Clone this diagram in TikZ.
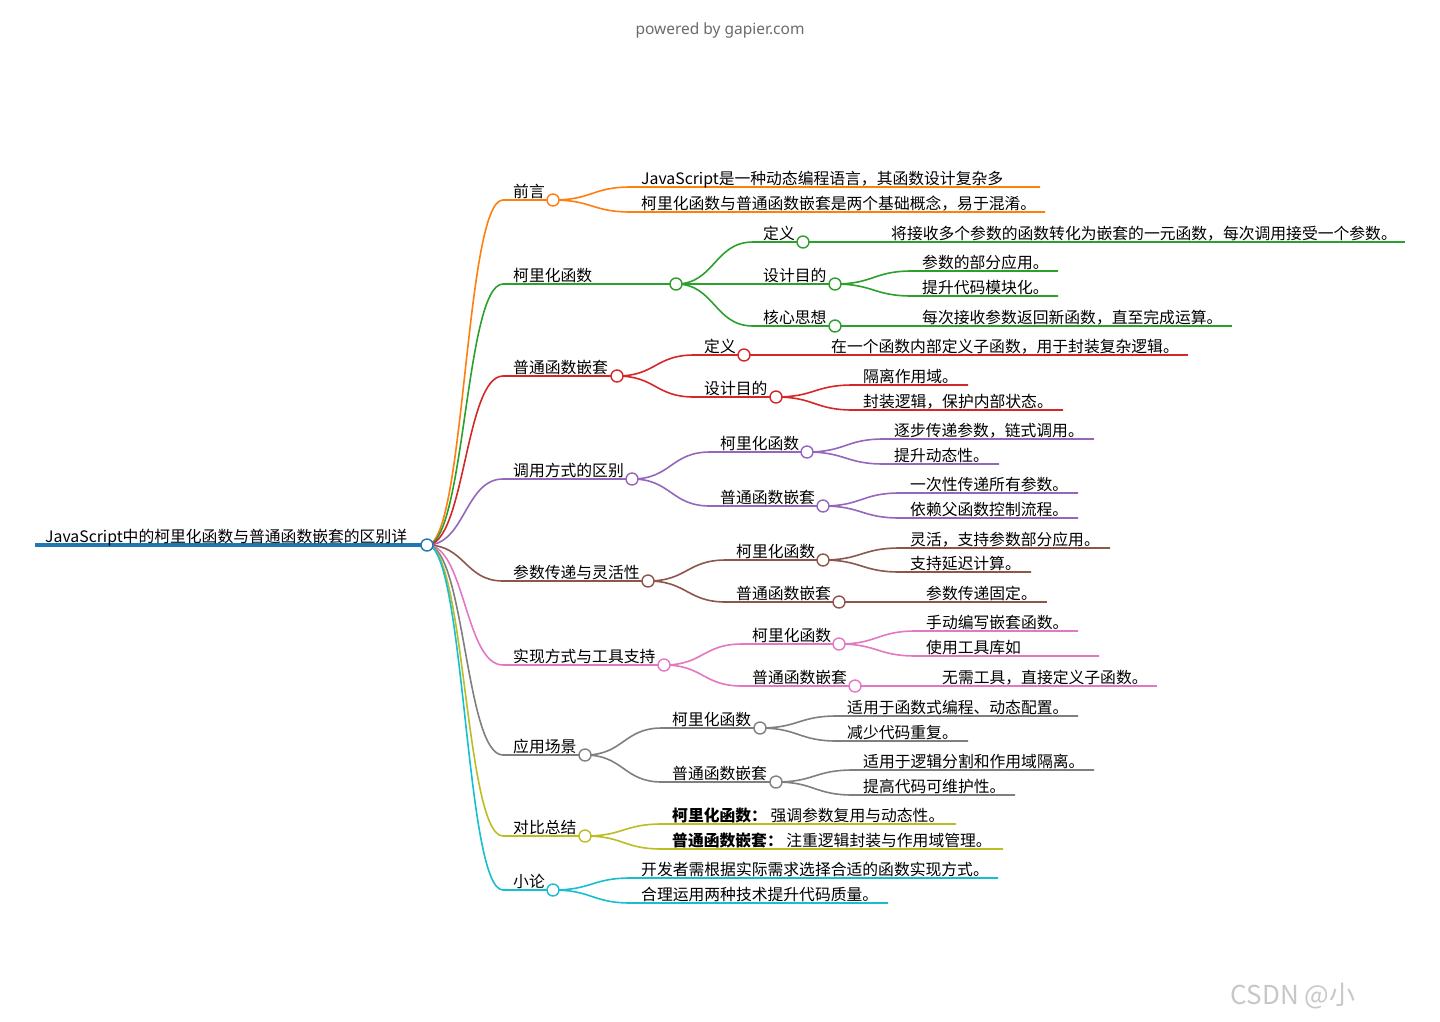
\documentclass[tikz,border=0pt]{standalone}
\usepackage{fontspec}
\setmainfont{Noto Sans CJK SC}
\newfontfamily\latinsans{Noto Sans}
\usetikzlibrary{calc,backgrounds}

\definecolor{cblue}{HTML}{1F77B4}
\definecolor{corange}{HTML}{FF7F0E}
\definecolor{cgreen}{HTML}{2CA02C}
\definecolor{cred}{HTML}{D62728}
\definecolor{cpurple}{HTML}{9467BD}
\definecolor{cbrown}{HTML}{8C564B}
\definecolor{cpink}{HTML}{E377C2}
\definecolor{cgray}{HTML}{7F7F7F}
\definecolor{colive}{HTML}{BCBD22}
\definecolor{ccyan}{HTML}{17BECF}

\tikzset{
  lbl/.style={anchor=base west,inner sep=0pt,yshift=-1.5pt,font=\fontsize{15.8}{18}\selectfont},
  dot/.style={circle,draw=#1,fill=white,line width=1.4pt,minimum size=12pt,inner sep=0pt},
  br/.style={line width=1.6pt},
  link/.style={to path={let \p1=(\tikztostart),\p2=(\tikztotarget) in
    .. controls ({(\x1+\x2)/2},\y1) and ({(\x1+\x2)/2},\y2) .. (\tikztotarget)}}
}

\begin{document}
\begin{tikzpicture}[x=1pt,y=-1pt]
\useasboundingbox (0,0) rectangle (1440,1021);

\node[text=black!58,font=\latinsans\fontsize{15.5}{18}\selectfont] (pw) at (720,30) {powered by gapier.com};
\node[text=black!22,font=\fontsize{26}{30}\selectfont] (wm) at (1293,996) {CSDN @小};

\coordinate (R0) at (35,545);
\node[dot=cblue] (R) at (427,545) {};

\coordinate (A0) at (503,200);  \node[dot=corange] (A) at (553,200) {};
\coordinate (B0) at (503,284);  \node[dot=cgreen] (B) at (676,284) {};
\coordinate (C0) at (503,376);  \node[dot=cred] (C) at (617,376) {};
\coordinate (D0) at (503,479);  \node[dot=cpurple] (D) at (632,479) {};
\coordinate (E0) at (503,581);  \node[dot=cbrown] (E) at (648,581) {};
\coordinate (F0) at (503,665);  \node[dot=cpink] (F) at (664,665) {};
\coordinate (G0) at (503,755);  \node[dot=cgray] (G) at (585,755) {};
\coordinate (H0) at (503,836);  \node[dot=colive] (H) at (585,836) {};
\coordinate (I0) at (503,890);  \node[dot=ccyan] (I) at (553,890) {};

\coordinate (B10) at (753,242); \node[dot=cgreen] (B1) at (803,242) {};
\coordinate (B20) at (753,284); \node[dot=cgreen] (B2) at (835,284) {};
\coordinate (B30) at (753,326); \node[dot=cgreen] (B3) at (835,326) {};
\coordinate (C10) at (694,355); \node[dot=cred] (C1) at (744,355) {};
\coordinate (C20) at (694,397); \node[dot=cred] (C2) at (776,397) {};
\coordinate (D10) at (710,452); \node[dot=cpurple] (D1) at (807,452) {};
\coordinate (D20) at (710,506); \node[dot=cpurple] (D2) at (823,506) {};
\coordinate (E10) at (726,560); \node[dot=cbrown] (E1) at (823,560) {};
\coordinate (E20) at (726,602); \node[dot=cbrown] (E2) at (839,602) {};
\coordinate (F10) at (742,644); \node[dot=cpink] (F1) at (839,644) {};
\coordinate (F20) at (742,686); \node[dot=cpink] (F2) at (855,686) {};
\coordinate (G10) at (662,728); \node[dot=cgray] (G1) at (760,728) {};
\coordinate (G20) at (662,782); \node[dot=cgray] (G2) at (776,782) {};

\coordinate (A1s) at (631,187);  \coordinate (A1e) at (1040,187);
\coordinate (A2s) at (631,212);  \coordinate (A2e) at (1045,212);
\coordinate (B11s) at (881,242); \coordinate (B11e) at (1405,242);
\coordinate (B21s) at (912,271); \coordinate (B21e) at (1058,271);
\coordinate (B22s) at (912,296); \coordinate (B22e) at (1058,296);
\coordinate (B31s) at (912,326); \coordinate (B31e) at (1232,326);
\coordinate (C11s) at (821,355); \coordinate (C11e) at (1188,355);
\coordinate (C21s) at (853,385); \coordinate (C21e) at (968,385);
\coordinate (C22s) at (853,410); \coordinate (C22e) at (1063,410);
\coordinate (D11s) at (884,439); \coordinate (D11e) at (1094,439);
\coordinate (D12s) at (884,464); \coordinate (D12e) at (999,464);
\coordinate (D21s) at (900,493); \coordinate (D21e) at (1078,493);
\coordinate (D22s) at (900,518); \coordinate (D22e) at (1078,518);
\coordinate (E11s) at (900,548); \coordinate (E11e) at (1110,548);
\coordinate (E12s) at (900,572); \coordinate (E12e) at (1031,572);
\coordinate (E21s) at (916,602); \coordinate (E21e) at (1047,602);
\coordinate (F11s) at (916,631); \coordinate (F11e) at (1078,631);
\coordinate (F12s) at (916,656); \coordinate (F12e) at (1099,656);
\coordinate (F21s) at (932,686); \coordinate (F21e) at (1157,686);
\coordinate (G11s) at (837,716); \coordinate (G11e) at (1078,716);
\coordinate (G12s) at (837,741); \coordinate (G12e) at (968,741);
\coordinate (G21s) at (853,770); \coordinate (G21e) at (1094,770);
\coordinate (G22s) at (853,795); \coordinate (G22e) at (1015,795);
\coordinate (H1s) at (662,824);  \coordinate (H1e) at (956,824);
\coordinate (H2s) at (662,849);  \coordinate (H2e) at (1003,849);
\coordinate (I1s) at (631,878);  \coordinate (I1e) at (998,878);
\coordinate (I2s) at (631,903);  \coordinate (I2e) at (888,903);

\node[lbl] (tR) at (45,541) {JavaScript中的柯里化函数与普通函数嵌套的区别详};

\node[lbl] (tA) at (513,196) {前言};
\node[lbl] (tB) at (513,280) {柯里化函数};
\node[lbl] (tC) at (513,372) {普通函数嵌套};
\node[lbl] (tD) at (513,475) {调用方式的区别};
\node[lbl] (tE) at (513,577) {参数传递与灵活性};
\node[lbl] (tF) at (513,661) {实现方式与工具支持};
\node[lbl] (tG) at (513,751) {应用场景};
\node[lbl] (tH) at (513,832) {对比总结};
\node[lbl] (tI) at (513,886) {小论};

\node[lbl] (tB1) at (763,238) {定义};
\node[lbl] (tB2) at (763,280) {设计目的};
\node[lbl] (tB3) at (763,322) {核心思想};
\node[lbl] (tC1) at (704,351) {定义};
\node[lbl] (tC2) at (704,393) {设计目的};
\node[lbl] (tD1) at (720,448) {柯里化函数};
\node[lbl] (tD2) at (720,502) {普通函数嵌套};
\node[lbl] (tE1) at (736,556) {柯里化函数};
\node[lbl] (tE2) at (736,598) {普通函数嵌套};
\node[lbl] (tF1) at (752,640) {柯里化函数};
\node[lbl] (tF2) at (752,682) {普通函数嵌套};
\node[lbl] (tG1) at (672,724) {柯里化函数};
\node[lbl] (tG2) at (672,778) {普通函数嵌套};

\node[lbl] (tA1) at (641,183) {JavaScript是一种动态编程语言，其函数设计复杂多};
\node[lbl] (tA2) at (641,208) {柯里化函数与普通函数嵌套是两个基础概念，易于混淆。};
\node[lbl] (tB11) at (891,238) {将接收多个参数的函数转化为嵌套的一元函数，每次调用接受一个参数。};
\node[lbl] (tB21) at (922,267) {参数的部分应用。};
\node[lbl] (tB22) at (922,292) {提升代码模块化。};
\node[lbl] (tB31) at (922,322) {每次接收参数返回新函数，直至完成运算。};
\node[lbl] (tC11) at (831,351) {在一个函数内部定义子函数，用于封装复杂逻辑。};
\node[lbl] (tC21) at (863,381) {隔离作用域。};
\node[lbl] (tC22) at (863,406) {封装逻辑，保护内部状态。};
\node[lbl] (tD11) at (894,435) {逐步传递参数，链式调用。};
\node[lbl] (tD12) at (894,460) {提升动态性。};
\node[lbl] (tD21) at (910,489) {一次性传递所有参数。};
\node[lbl] (tD22) at (910,514) {依赖父函数控制流程。};
\node[lbl] (tE11) at (910,544) {灵活，支持参数部分应用。};
\node[lbl] (tE12) at (910,568) {支持延迟计算。};
\node[lbl] (tE21) at (926,598) {参数传递固定。};
\node[lbl] (tF11) at (926,627) {手动编写嵌套函数。};
\node[lbl] (tF12) at (926,652) {使用工具库如};
\node[lbl] (tF21) at (942,682) {无需工具，直接定义子函数。};
\node[lbl] (tG11) at (847,712) {适用于函数式编程、动态配置。};
\node[lbl] (tG12) at (847,737) {减少代码重复。};
\node[lbl] (tG21) at (863,766) {适用于逻辑分割和作用域隔离。};
\node[lbl] (tG22) at (863,791) {提高代码可维护性。};
\node[lbl] (tH1) at (672,820) {\textbf{柯里化函数：} 强调参数复用与动态性。};
\node[lbl] (tH2) at (672,845) {\textbf{普通函数嵌套：} 注重逻辑封装与作用域管理。};
\node[lbl] (tI1) at (641,874) {开发者需根据实际需求选择合适的函数实现方式。};
\node[lbl] (tI2) at (641,899) {合理运用两种技术提升代码质量。};

\begin{scope}[on background layer]
\draw[cblue,line width=4pt] (R0) -- (R.center);

\draw[corange,br] (R.center) to[link] (A0) -- (A.center);
\draw[cgreen,br] (R.center) to[link] (B0) -- (B.center);
\draw[cred,br] (R.center) to[link] (C0) -- (C.center);
\draw[cpurple,br] (R.center) to[link] (D0) -- (D.center);
\draw[cbrown,br] (R.center) to[link] (E0) -- (E.center);
\draw[cpink,br] (R.center) to[link] (F0) -- (F.center);
\draw[cgray,br] (R.center) to[link] (G0) -- (G.center);
\draw[colive,br] (R.center) to[link] (H0) -- (H.center);
\draw[ccyan,br] (R.center) to[link] (I0) -- (I.center);

\draw[cgreen,br] (B.center) to[link] (B10) -- (B1.center);
\draw[cgreen,br] (B.center) to[link] (B20) -- (B2.center);
\draw[cgreen,br] (B.center) to[link] (B30) -- (B3.center);
\draw[cred,br] (C.center) to[link] (C10) -- (C1.center);
\draw[cred,br] (C.center) to[link] (C20) -- (C2.center);
\draw[cpurple,br] (D.center) to[link] (D10) -- (D1.center);
\draw[cpurple,br] (D.center) to[link] (D20) -- (D2.center);
\draw[cbrown,br] (E.center) to[link] (E10) -- (E1.center);
\draw[cbrown,br] (E.center) to[link] (E20) -- (E2.center);
\draw[cpink,br] (F.center) to[link] (F10) -- (F1.center);
\draw[cpink,br] (F.center) to[link] (F20) -- (F2.center);
\draw[cgray,br] (G.center) to[link] (G10) -- (G1.center);
\draw[cgray,br] (G.center) to[link] (G20) -- (G2.center);

\draw[corange,br] (A.center) to[link] (A1s) -- (A1e);
\draw[corange,br] (A.center) to[link] (A2s) -- (A2e);
\draw[cgreen,br] (B1.center) to[link] (B11s) -- (B11e);
\draw[cgreen,br] (B2.center) to[link] (B21s) -- (B21e);
\draw[cgreen,br] (B2.center) to[link] (B22s) -- (B22e);
\draw[cgreen,br] (B3.center) to[link] (B31s) -- (B31e);
\draw[cred,br] (C1.center) to[link] (C11s) -- (C11e);
\draw[cred,br] (C2.center) to[link] (C21s) -- (C21e);
\draw[cred,br] (C2.center) to[link] (C22s) -- (C22e);
\draw[cpurple,br] (D1.center) to[link] (D11s) -- (D11e);
\draw[cpurple,br] (D1.center) to[link] (D12s) -- (D12e);
\draw[cpurple,br] (D2.center) to[link] (D21s) -- (D21e);
\draw[cpurple,br] (D2.center) to[link] (D22s) -- (D22e);
\draw[cbrown,br] (E1.center) to[link] (E11s) -- (E11e);
\draw[cbrown,br] (E1.center) to[link] (E12s) -- (E12e);
\draw[cbrown,br] (E2.center) to[link] (E21s) -- (E21e);
\draw[cpink,br] (F1.center) to[link] (F11s) -- (F11e);
\draw[cpink,br] (F1.center) to[link] (F12s) -- (F12e);
\draw[cpink,br] (F2.center) to[link] (F21s) -- (F21e);
\draw[cgray,br] (G1.center) to[link] (G11s) -- (G11e);
\draw[cgray,br] (G1.center) to[link] (G12s) -- (G12e);
\draw[cgray,br] (G2.center) to[link] (G21s) -- (G21e);
\draw[cgray,br] (G2.center) to[link] (G22s) -- (G22e);
\draw[colive,br] (H.center) to[link] (H1s) -- (H1e);
\draw[colive,br] (H.center) to[link] (H2s) -- (H2e);
\draw[ccyan,br] (I.center) to[link] (I1s) -- (I1e);
\draw[ccyan,br] (I.center) to[link] (I2s) -- (I2e);
\end{scope}

\end{tikzpicture}
\end{document}
